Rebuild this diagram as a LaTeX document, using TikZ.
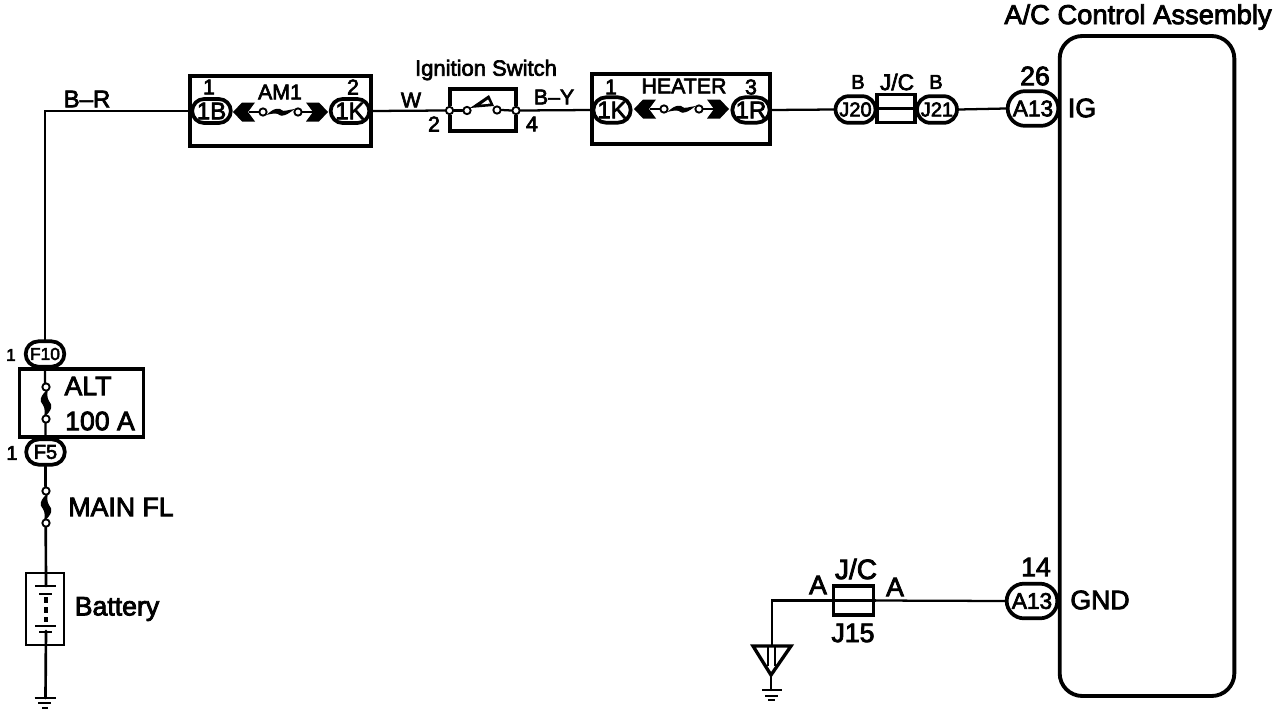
\documentclass[tikz,border=0pt]{standalone}
\usepackage{fontspec}
\setmainfont[FakeBold=3]{Liberation Sans}
\usetikzlibrary{shapes.misc}
\tikzset{
  x=0.75pt,y=-0.75pt,
  wire/.style={line width=1.7pt,line cap=round},
  heavy/.style={draw,line width=2.9pt,inner sep=0pt},
  lab/.style={font=\fontsize{#1}{#1}\selectfont,inner sep=0pt,text=black},
  conn/.style n args={3}{draw,fill=white,rounded rectangle,line width=2.8pt,inner sep=0pt,
     minimum width=#1pt,minimum height=#2pt,font=\fontsize{#3}{#3}\selectfont},
  term/.style={draw,fill=white,circle,line width=1.4pt,inner sep=0pt,minimum size=5.5pt},
  hfuse/.pic={
    \fill (-47.5,0) -- (-38.5,-9.5) -- (-25.5,-9.5) -- (-32.5,0) -- (-25.5,9.5) -- (-38.5,9.5) -- cycle;
    \fill (47.5,0) -- (38.5,-9.5) -- (25.5,-9.5) -- (32.5,0) -- (25.5,9.5) -- (38.5,9.5) -- cycle;
    \draw[line width=1.5pt] (-32,0) -- (-17,0) (17,0) -- (32,0);
    \fill (-14,3) .. controls (-6,-5) and (0,-4) .. (1,-2) .. controls (3,0) and (7,-2) .. (14,-3)
       .. controls (7,3) and (1,5) .. (-1,3) .. controls (-3,1) and (-7,1) .. (-14,3) -- cycle;
    \node[term] (a) at (-17.5,0) {};
    \node[term] (b) at (17.5,0) {};
  },
  vfuse/.pic={
    \fill[white] (-3,-14) rectangle (3,14);
    \fill (2,-14) .. controls (-6,-7) and (-7,-2) .. (-3,2) .. controls (-1,5) and (-1,9) .. (-2,14)
       .. controls (6,8) and (7,2) .. (3,-2) .. controls (1,-5) and (1,-9) .. (2,-14) -- cycle;
    \node[term] (a) at (0,-16) {};
    \node[term] (b) at (0,16) {};
  },
}
\begin{document}
\begin{tikzpicture}
\path[use as bounding box,fill=white] (0,0) rectangle (1280,714);

% boxes
\node[heavy,minimum width=136pt,minimum height=52pt] (am1box) at (280.5,111) {};
\node[heavy,minimum width=134pt,minimum height=52pt] (heaterbox) at (681,109) {};
\node[heavy,minimum width=93pt,minimum height=51pt] (altbox) at (81.5,403) {};
\node[draw,line width=1.5pt,minimum width=28.5pt,minimum height=54pt,inner sep=0pt] (battbox) at (44.5,608.5) {};
\node[heavy,rounded corners=17pt,minimum width=131pt,minimum height=495pt] (acbox) at (1147,366) {};

% connectors (shapes)
\node[conn={29}{19}{13}] (F10) at (45,354) {F10};
\node[conn={29}{19}{15}] (F5) at (45.5,452) {F5};
\node[conn={29}{18}{18}] (c1B) at (211.5,111) {1B};
\node[conn={29}{18}{18}] (c1Ka) at (350,111) {1K};
\node[conn={28}{19}{18}] (c1Kb) at (612,110) {1K};
\node[conn={28}{19}{18}] (c1R) at (751,110) {1R};
\node[conn={30}{20}{15}] (J20) at (855.5,109.5) {J20};
\node[conn={30}{20}{15}] (J21) at (937,109.5) {J21};
\node[conn={38}{26}{17}] (A13a) at (1033,108.5) {A13};
\node[conn={38}{26}{17}] (A13b) at (1032,601) {A13};
\node[draw,line width=2.9pt,fill=white,minimum width=29pt,minimum height=21pt,inner sep=0pt] (JCa) at (896,108.5) {};
\node[draw,line width=2.9pt,fill=white,minimum width=30pt,minimum height=22pt,inner sep=0pt] (JCb) at (853.5,600.5) {};

% ignition switch
\draw[line width=2.6pt] (450,106) -- (450,89) -- (516,89) -- (516,106) (450,115) -- (450,131) -- (516,131) -- (516,115);
\node[term] (T2) at (449.5,110.5) {};
\node[term] (T4) at (516,110.5) {};
\node[term] (Sa) at (467,110.5) {};
\node[term] (Sb) at (497,110) {};
\fill (470,108) -- (489,95) -- (494,106) -- cycle;
\fill[white] (481,104.5) -- (488,99.5) -- (490,103.5) -- cycle;

% named free ends
\coordinate (gndA) at (45.5,698);
\coordinate (triTop) at (772,645);
\coordinate (triTip) at (771,675);
\coordinate (gndB) at (771,690);
\coordinate (battTop) at (46,586);
\coordinate (battBot) at (46,631);

% wires
\draw[wire] (F10.north) |- (c1B.west);
\draw[wire] (c1Ka.east) -- (T2.west);
\draw[wire] (T2.east) -- (Sa.west);
\draw[wire] (Sb.east) -- (T4.west);
\draw[wire] (T4.east) -- (c1Kb.west);
\draw[wire] (c1R.east) -- (J20.west);
\draw[wire] (JCa.west) -- (JCa.east);
\draw[wire] (J21.east) -- (A13a.west);
\draw[wire] (A13b.west) -- (JCb.east);
\draw[wire] (JCb.east) -- (JCb.west);
\draw[wire] (JCb.west) -| (triTop);
\draw[wire] (F10.south) -- (F5.north);
\draw[wire,line width=2pt] (F5.south) -- (battTop);
\draw[wire,line width=2pt] (battBot) -- (gndA);
\draw[line width=2.4pt,dash pattern=on 4.5pt off 3pt] (46,597) -- (46,622);

% fuses
\pic at (280.5,112) {hfuse};
\pic at (681.5,109) {hfuse};
\pic at (46,403) {vfuse};
\pic at (46,507) {vfuse};

% battery plates
\draw[line width=2.2pt] (35,586) -- (56,586) (39,594) -- (52,594) (35,626) -- (56,626) (39,632) -- (52,632);

% grounds
\draw[line width=1.8pt] (34.5,698) -- (55.5,698) (38,703) -- (51,703) (42,708) -- (48,708);
\draw[line width=2.5pt] (753,646) -- (791,646) -- (triTip) -- cycle;
\draw[line width=1.3pt] (768,646) -- (768,666) (775,646) -- (775,666);
\draw[wire] (triTip) -- (gndB);
\draw[line width=1.8pt] (762,690) -- (782,690) (765,696) -- (778,696) (768,700) -- (775,700);

% labels
\node[lab=20.5] (tAC) at (1138,17) {A/C Control Assembly};
\node[lab=16.5] (tIgn) at (486,70) {Ignition Switch};
\node[lab=18] (tBR) at (87,99) {B–R};
\node[lab=13] (t1a) at (11,355) {1};
\node[lab=15] (t1b) at (12,453) {1};
\node[lab=20] (tALT) at (88,386) {ALT};
\node[lab=20] (t100) at (100,421) {100 A};
\node[lab=20] (tMain) at (121,507) {MAIN FL};
\node[lab=20] (tBat) at (117,609) {Battery};
\node[lab=16] (t1c) at (209,87) {1};
\node[lab=16] (tAM1) at (280,92) {AM1};
\node[lab=16] (t2c) at (353,87) {2};
\node[lab=16] (tW) at (411,100) {W};
\node[lab=16] (t2d) at (434,124) {2};
\node[lab=16] (t4d) at (532,124) {4};
\node[lab=16] (tBY) at (554,97) {B–Y};
\node[lab=16] (t1e) at (611,87) {1};
\node[lab=16] (tHeat) at (684,86) {HEATER};
\node[lab=16] (t3e) at (751,87) {3};
\node[lab=15] (tBa) at (858,82) {B};
\node[lab=17] (tJCa) at (897,82) {J/C};
\node[lab=15] (tBb) at (936,82) {B};
\node[lab=20] (t26) at (1035,76) {26};
\node[lab=20] (tIG) at (1082,108) {IG};
\node[lab=20] (t14) at (1036,567) {14};
\node[lab=20] (tGND) at (1100,600) {GND};
\node[lab=21] (tJCb) at (856,569) {J/C};
\node[lab=20] (tAa) at (818,585) {A};
\node[lab=20] (tAb) at (895,587) {A};
\node[lab=20] (tJ15) at (853,633) {J15};
\end{tikzpicture}
\end{document}
